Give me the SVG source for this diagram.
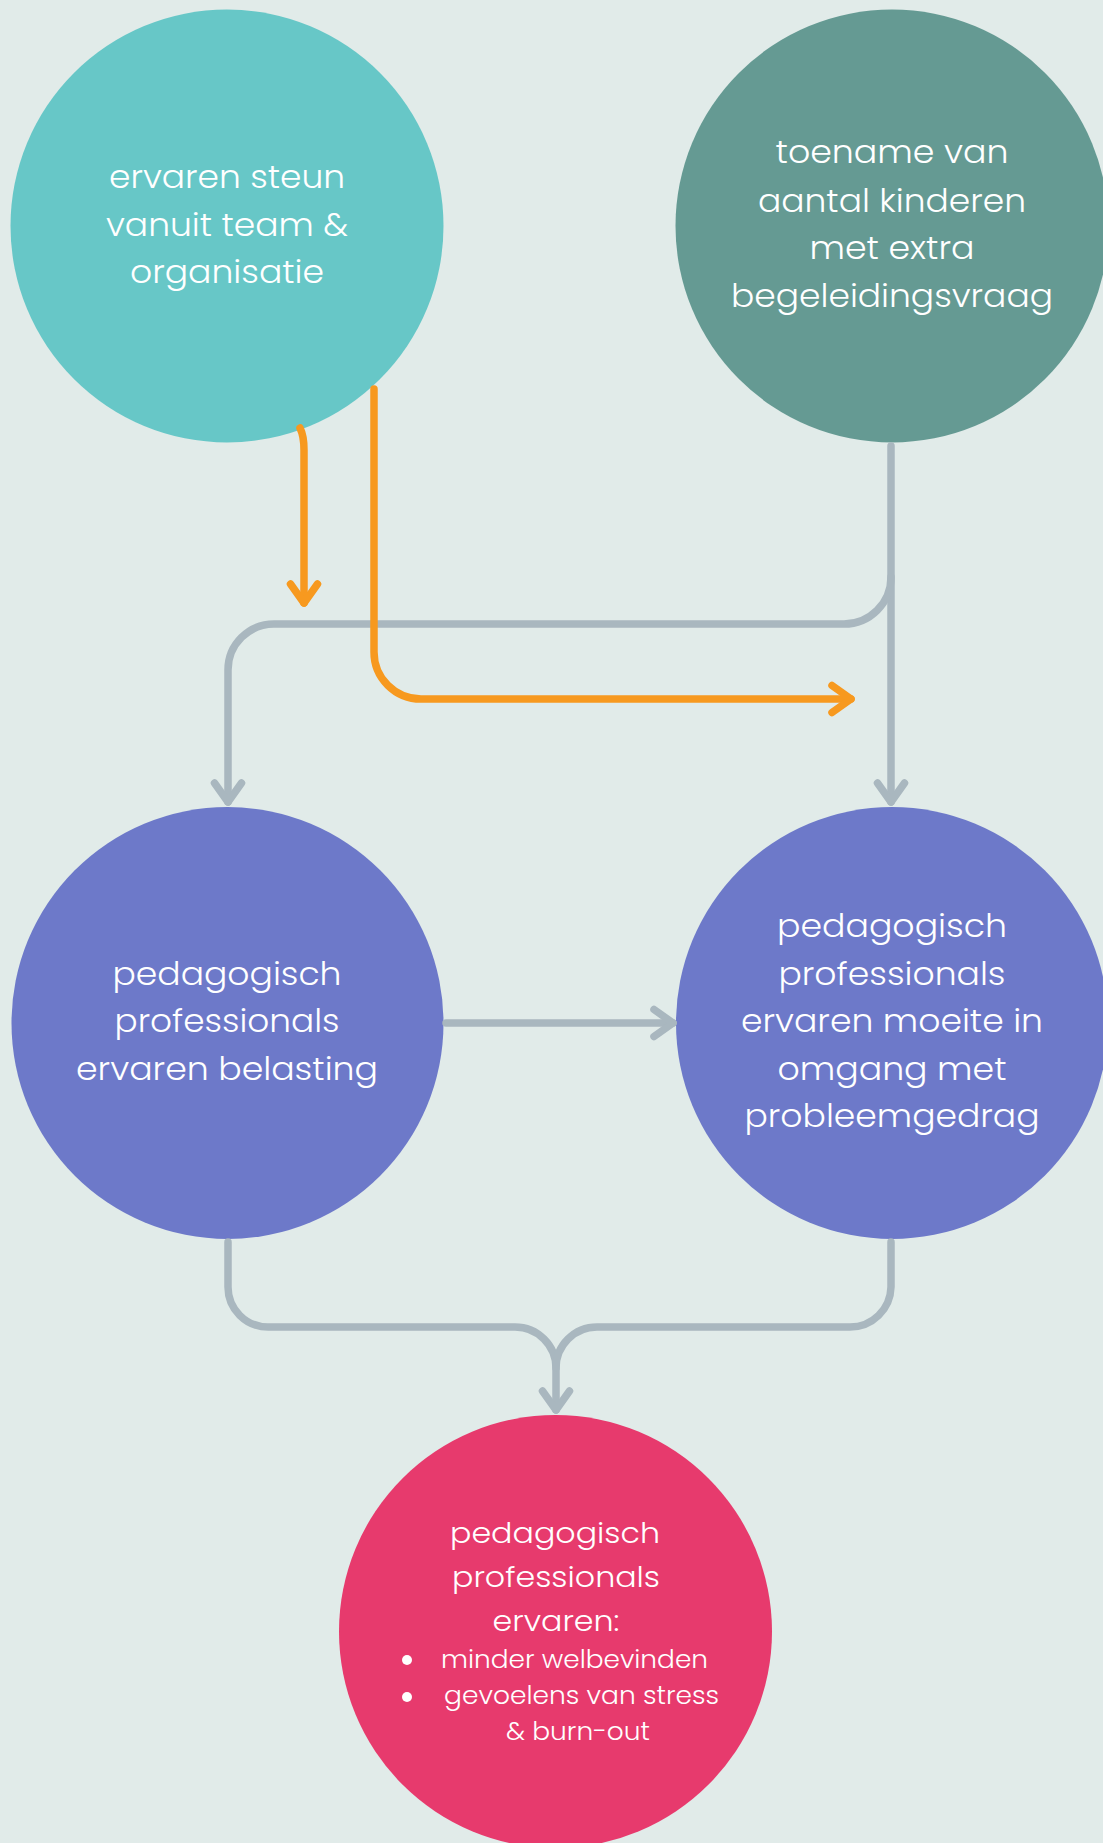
<svg xmlns="http://www.w3.org/2000/svg" width="1103" height="1843" viewBox="0 0 1103 1843">
<defs>
<style>
.lbl{font-family:"Poppins","Lato","Open Sans","Liberation Sans",sans-serif;font-weight:300;fill:#ffffff;text-anchor:middle}
.big{font-size:32px}
.mid{font-size:29.5px}
.sm{font-size:24.5px;text-anchor:start}
.grey{fill:none;stroke:#A9B7BF;stroke-width:7.5;stroke-linecap:round;stroke-linejoin:round}
.orange{fill:none;stroke:#F7991F;stroke-width:7.5;stroke-linecap:round;stroke-linejoin:round}
</style>
<marker id="mg" markerUnits="userSpaceOnUse" viewBox="-26 -20 32 40" markerWidth="32" markerHeight="40" refX="0" refY="0" orient="auto" overflow="visible">
<path d="M-19,-13.5 L0,0 L-19,13.5" fill="none" stroke="#A9B7BF" stroke-width="7.5" stroke-linecap="round" stroke-linejoin="round"/>
</marker>
<marker id="mo" markerUnits="userSpaceOnUse" viewBox="-26 -20 32 40" markerWidth="32" markerHeight="40" refX="0" refY="0" orient="auto" overflow="visible">
<path d="M-19,-13.5 L0,0 L-19,13.5" fill="none" stroke="#F7991F" stroke-width="7.5" stroke-linecap="round" stroke-linejoin="round"/>
</marker>
</defs>
<rect x="0" y="0" width="1103" height="1843" fill="#E1EBE9"/>

<g id="node-steun">
<circle cx="227" cy="226" r="216.5" fill="#67C7C7"/>
<text class="lbl big" x="227" y="188" textLength="236" lengthAdjust="spacingAndGlyphs">ervaren steun</text>
<text class="lbl big" x="227" y="236" textLength="242" lengthAdjust="spacingAndGlyphs">vanuit team &amp;</text>
<text class="lbl big" x="227" y="283" textLength="194" lengthAdjust="spacingAndGlyphs">organisatie</text>
</g>

<g id="node-toename">
<circle cx="892" cy="226" r="216.5" fill="#659A93"/>
<text class="lbl big" x="892" y="163" textLength="233" lengthAdjust="spacingAndGlyphs">toename van</text>
<text class="lbl big" x="892" y="212" textLength="268" lengthAdjust="spacingAndGlyphs">aantal kinderen</text>
<text class="lbl big" x="892" y="259" textLength="165" lengthAdjust="spacingAndGlyphs">met extra</text>
<text class="lbl big" x="892" y="307" textLength="322" lengthAdjust="spacingAndGlyphs">begeleidingsvraag</text>
</g>

<g id="node-belasting">
<circle cx="227.5" cy="1023" r="216" fill="#6D79C9"/>
<text class="lbl big" x="227" y="985" textLength="229" lengthAdjust="spacingAndGlyphs">pedagogisch</text>
<text class="lbl big" x="227" y="1032" textLength="225" lengthAdjust="spacingAndGlyphs">professionals</text>
<text class="lbl big" x="227" y="1080" textLength="302" lengthAdjust="spacingAndGlyphs">ervaren belasting</text>
</g>

<g id="node-moeite">
<circle cx="892" cy="1023" r="216" fill="#6D79C9"/>
<text class="lbl big" x="892" y="937" textLength="230" lengthAdjust="spacingAndGlyphs">pedagogisch</text>
<text class="lbl big" x="892" y="985" textLength="227" lengthAdjust="spacingAndGlyphs">professionals</text>
<text class="lbl big" x="892" y="1032" textLength="302" lengthAdjust="spacingAndGlyphs">ervaren moeite in</text>
<text class="lbl big" x="892" y="1080" textLength="229" lengthAdjust="spacingAndGlyphs">omgang met</text>
<text class="lbl big" x="892" y="1127" textLength="295" lengthAdjust="spacingAndGlyphs">probleemgedrag</text>
</g>

<g id="node-gevolgen">
<circle cx="555.5" cy="1631.5" r="216.5" fill="#E73A6D"/>
<text class="lbl mid" x="555" y="1543" textLength="210" lengthAdjust="spacingAndGlyphs">pedagogisch</text>
<text class="lbl mid" x="556" y="1587" textLength="208" lengthAdjust="spacingAndGlyphs">professionals</text>
<text class="lbl mid" x="556" y="1631" textLength="127" lengthAdjust="spacingAndGlyphs">ervaren:</text>
<circle cx="407" cy="1660" r="5" fill="#ffffff"/>
<circle cx="407" cy="1697" r="5" fill="#ffffff"/>
<text class="lbl sm" x="441" y="1668" textLength="267" lengthAdjust="spacingAndGlyphs">minder welbevinden</text>
<text class="lbl sm" x="444" y="1704" textLength="275" lengthAdjust="spacingAndGlyphs">gevoelens van stress</text>
<text class="lbl sm" x="506" y="1740" textLength="144" lengthAdjust="spacingAndGlyphs">&amp; burn-out</text>
</g>

<g id="connectors">
<path class="grey" d="M891,446 L891,802" marker-end="url(#mg)"/>
<path class="grey" d="M891,577 A47,47 0 0 1 844,624 L274,624 A46,46 0 0 0 228,670 L228,802" marker-end="url(#mg)"/>
<path class="grey" d="M446,1023 L673,1023" marker-end="url(#mg)"/>
<path class="grey" d="M228,1242 L228,1287 A40,40 0 0 0 268,1327 L515,1327 A41,41 0 0 1 556,1368 L556,1410" marker-end="url(#mg)"/>
<path class="grey" d="M891,1242 L891,1287 A41,41 0 0 1 850,1327 L597,1327 A41,41 0 0 0 556,1368"/>
<path class="orange" d="M300,428 Q304,436 304,450 L304,603" marker-end="url(#mo)"/>
<path class="orange" d="M374,389 L374,652 A47,47 0 0 0 421,699 L851,699" marker-end="url(#mo)"/>
</g>
</svg>
